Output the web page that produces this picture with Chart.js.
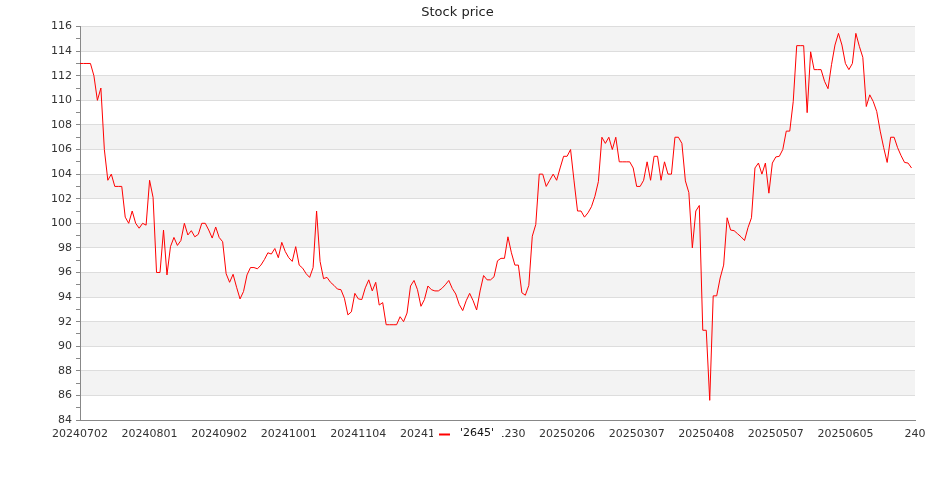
<!DOCTYPE html>
<html>
<head>
<meta charset="utf-8">
<title>Stock price</title>
<script src="https://cdn.jsdelivr.net/npm/chart.js@4.4.1/dist/chart.umd.min.js"></script>
<style>
    html, body { margin: 0; padding: 0; background: #fff; }
    #wrap { width: 935px; height: 500px; }
</style>
</head>
<body>
<div id="wrap"><canvas id="priceChart" width="935" height="500"></canvas></div>
<script>
// closing price per trading day
const prices = [
    113, 113, 113, 113, 112, 110, 111, 106, 103.5, 104,
    103, 103, 103, 100.5, 100, 101, 100, 99.6, 100, 99.85,
    103.5, 102.1, 96, 96, 99.45, 95.8, 98.1, 98.85, 98.2, 98.6,
    100, 99.05, 99.4, 98.9, 99.1, 100, 100, 99.45, 98.8, 99.7,
    98.85, 98.5, 95.9, 95.2, 95.85, 94.8, 93.85, 94.45, 95.8, 96.4,
    96.4, 96.3, 96.6, 97.05, 97.6, 97.5, 97.95, 97.2, 98.45, 97.7,
    97.2, 96.9, 98.1, 96.6, 96.35, 95.9, 95.6, 96.4, 101, 96.9,
    95.5, 95.6, 95.2, 94.95, 94.65, 94.6, 93.9, 92.55, 92.8, 94.3,
    93.85, 93.8, 94.75, 95.4, 94.5, 95.2, 93.35, 93.55, 91.75, 91.75,
    91.75, 91.75, 92.4, 92, 92.7, 94.9, 95.35, 94.6, 93.25, 93.8,
    94.9, 94.6, 94.5, 94.5, 94.7, 95, 95.35, 94.7, 94.25, 93.4,
    92.9, 93.7, 94.3, 93.7, 92.95, 94.5, 95.75, 95.4, 95.4, 95.65,
    96.95, 97.15, 97.15, 98.9, 97.6, 96.6, 96.6, 94.35, 94.15, 94.95,
    98.95, 99.9, 104, 104, 103, 103.5, 104, 103.5, 104.5, 105.45,
    105.45, 106, 103.45, 101, 101, 100.5, 100.85, 101.35, 102.2, 103.4,
    107, 106.5, 107, 106, 107, 105, 105, 105, 105, 104.5,
    103, 103, 103.5, 105, 103.5, 105.45, 105.45, 103.5, 105, 104,
    104, 107, 107, 106.5, 103.45, 102.5, 98, 101, 101.45, 91.3,
    91.3, 85.6, 94.1, 94.1, 95.55, 96.6, 100.45, 99.45, 99.4, 99.15,
    98.9, 98.6, 99.65, 100.45, 104.5, 104.9, 104, 104.9, 102.45, 104.9,
    105.4, 105.45, 106, 107.5, 107.5, 109.9, 114.45, 114.45, 114.45, 109,
    113.95, 112.5, 112.5, 112.5, 111.55, 110.95, 112.9, 114.5, 115.45, 114.5,
    113, 112.5, 113, 115.45, 114.4, 113.5, 109.5, 110.45, 109.9, 109.1,
    107.5, 106.15, 104.95, 107, 107, 106.15, 105.5, 104.95, 104.9, 104.5
];

// x tick labels, one every 20 trading days (last one has no date)
const tickLabels = [
    '20240702', '20240801', '20240902', '20241001', '20241104', '20241202',
    '20241230', '20250206', '20250307', '20250408', '20250507', '20250605', '240'
];

const seriesName = "'2645'";
const tickStep = 20;
const yMin = 84;
const yMax = 116;

// grey bands behind every other 2-unit row
const bandPlugin = {
    id: 'bands',
    beforeDraw(chart) {
        const { ctx, chartArea, scales } = chart;
        const y = scales.y;
        ctx.save();
        ctx.fillStyle = '#f3f3f3';
        for (let v = yMax - 2; v >= yMin; v -= 4) {
            const top = y.getPixelForValue(v + 2);
            const bottom = y.getPixelForValue(v);
            ctx.fillRect(chartArea.left, top, chartArea.right - chartArea.left, bottom - top);
        }
        ctx.restore();
    }
};

// legend sits on top of the x labels, like in the original
const legendPlugin = {
    id: 'bottomLegend',
    afterDraw(chart) {
        const { ctx, chartArea } = chart;
        const ds = chart.data.datasets[0];
        ctx.save();
        ctx.font = '11px "DejaVu Sans"';
        const tw = ctx.measureText(ds.label).width;
        const w = 6 + 11 + 10 + tw + 8;
        const x0 = chart.width / 2 - w / 2;
        const yMid = chartArea.bottom + 14;
        ctx.fillStyle = '#ffffff';
        ctx.fillRect(x0, chartArea.bottom + 3, w, 22);
        ctx.strokeStyle = ds.borderColor;
        ctx.lineWidth = 2;
        ctx.beginPath();
        ctx.moveTo(x0 + 6, yMid + 0.5);
        ctx.lineTo(x0 + 17, yMid + 0.5);
        ctx.stroke();
        ctx.fillStyle = '#111';
        ctx.textBaseline = 'middle';
        ctx.fillText(ds.label, x0 + 27, yMid - 1);
        ctx.restore();
    }
};

const ctx = document.getElementById('priceChart').getContext('2d');
new Chart(ctx, {
    type: 'line',
    data: {
        datasets: [{
            label: seriesName,
            data: prices.map((v, i) => ({ x: i, y: v })),
            borderColor: '#ff0000',
            borderWidth: 1,
            pointRadius: 0,
            tension: 0,
            fill: false
        }]
    },
    options: {
        responsive: false,
        animation: false,
        layout: { padding: { left: 0, right: 20, top: 0, bottom: 0 } },
        plugins: {
            legend: { display: false },
            tooltip: { enabled: false },
            title: {
                display: true,
                text: 'Stock price',
                color: '#222',
                font: { family: 'DejaVu Sans', size: 13, weight: 'normal' },
                padding: { top: 5, bottom: 6 }
            }
        },
        scales: {
            x: {
                type: 'linear',
                min: 0,
                max: (tickLabels.length - 1) * tickStep,
                afterFit: scale => { scale.height = 80; },
                grid: { display: false, drawTicks: false },
                border: { display: true, color: '#888', width: 1 },
                ticks: {
                    stepSize: tickStep,
                    autoSkip: false,
                    maxRotation: 0,
                    padding: 8,
                    color: '#333',
                    font: { family: 'DejaVu Sans', size: 11 },
                    callback: value => tickLabels[Math.round(value / tickStep)]
                }
            },
            y: {
                min: yMin,
                max: yMax,
                afterFit: scale => { scale.width = 80; },
                grid: {
                    color: c => (c.tick && c.tick.value % 2 === 0) ? '#dddddd' : 'rgba(0,0,0,0)',
                    tickColor: '#888',
                    tickLength: 4,
                    lineWidth: 1
                },
                border: { display: true, color: '#888', width: 1 },
                ticks: {
                    stepSize: 1,
                    autoSkip: false,
                    padding: 4,
                    color: '#333',
                    font: { family: 'DejaVu Sans', size: 11 },
                    callback: value => value % 2 === 0 ? String(value) : ''
                }
            }
        }
    },
    plugins: [bandPlugin, legendPlugin]
});
</script>
</body>
</html>
